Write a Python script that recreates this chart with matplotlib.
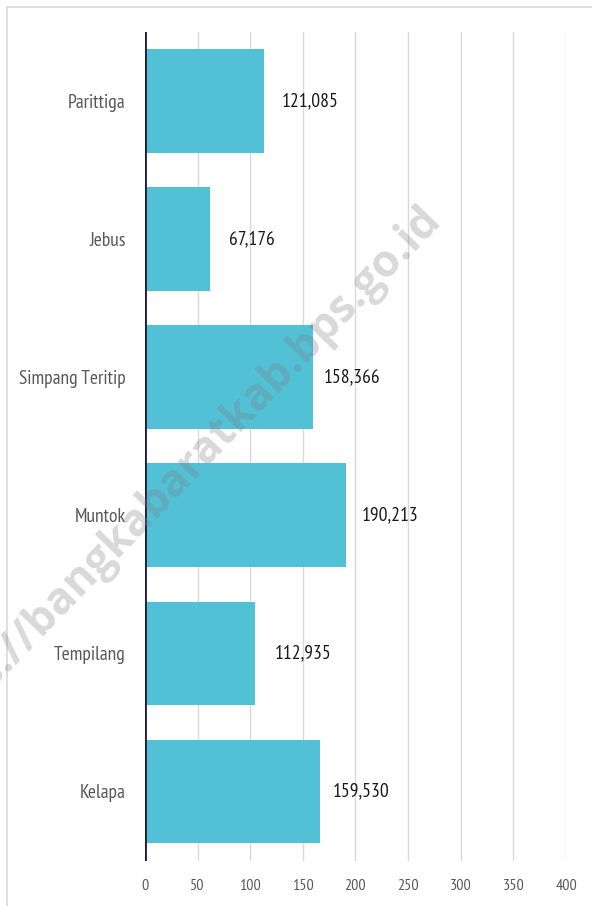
import matplotlib
matplotlib.use('Agg')
import matplotlib.pyplot as plt
from matplotlib.patches import Rectangle

BAR = '#52c1d6'
NAVY = '#1b1a4b'
GRID = '#d9d9d9'
GREY = '#595959'

plt.rcParams['font.family'] = ['PT Sans Narrow', 'DejaVu Sans']

# data, top to bottom as in the chart
kecamatan = ['Parittiga', 'Jebus', 'Simpang Teritip', 'Muntok', 'Tempilang', 'Kelapa']
bar_values = [113, 62, 159.5, 191, 104.7, 166.4]
value_labels = ['121,085', '67,176', '158,366', '190,213', '112,935', '159,530']
x_ticks = [0, 50, 100, 150, 200, 250, 300, 350, 400]

# label offsets from bar end, in points
label_pad = [13.2, 13.2, 7.5, 11, 14, 9]

fig = plt.figure(figsize=(5.92, 9.06), dpi=100)
ax = fig.add_axes([0.2449, 0.0502, 0.9561 - 0.2449, 0.965 - 0.0502])

# outer light frame
fig.patches.append(Rectangle((7 / 592, -0.1), 1.2, 1 - 7.5 / 906 + 0.1,
                             transform=fig.transFigure, fill=False,
                             edgecolor=GRID, linewidth=1.2, zorder=0))

ypos = list(range(len(kecamatan)))
ax.barh(ypos, bar_values, height=0.75, color=BAR, zorder=2)

for y, v, lab, pad in zip(ypos, bar_values, value_labels, label_pad):
    ax.annotate(lab, (v, y), xytext=(pad, 0), textcoords='offset points',
                ha='left', va='center', fontsize=14, color='#1a1a1a')

ax.set_xlim(0, 400)
ax.set_ylim(len(kecamatan) - 0.5, -0.5)
ax.set_xticks(x_ticks)
ax.set_xticklabels([str(t) for t in x_ticks])
ax.set_yticks(ypos)
ax.set_yticklabels(kecamatan)
ax.tick_params(axis='x', length=0, pad=13, labelsize=11.5, labelcolor=GREY)
ax.tick_params(axis='y', length=0, pad=14, labelsize=14, labelcolor=GREY)

ax.grid(axis='x', color=GRID, linewidth=1.0, zorder=0)
ax.set_axisbelow(True)
for s in ax.spines.values():
    s.set_visible(False)
ax.axvline(0, color=NAVY, linewidth=2.0, zorder=3)

# watermark
fig.text(442 / 592, 1 - 220 / 906, 'https://bangkabaratkab.bps.go.id',
         rotation=46, rotation_mode='anchor', ha='right', va='baseline',
         fontsize=32, fontweight='bold', family=['Open Sans', 'DejaVu Sans'],
         color='#808080', alpha=0.3, zorder=10)

fig.savefig('out.png', dpi=100)
